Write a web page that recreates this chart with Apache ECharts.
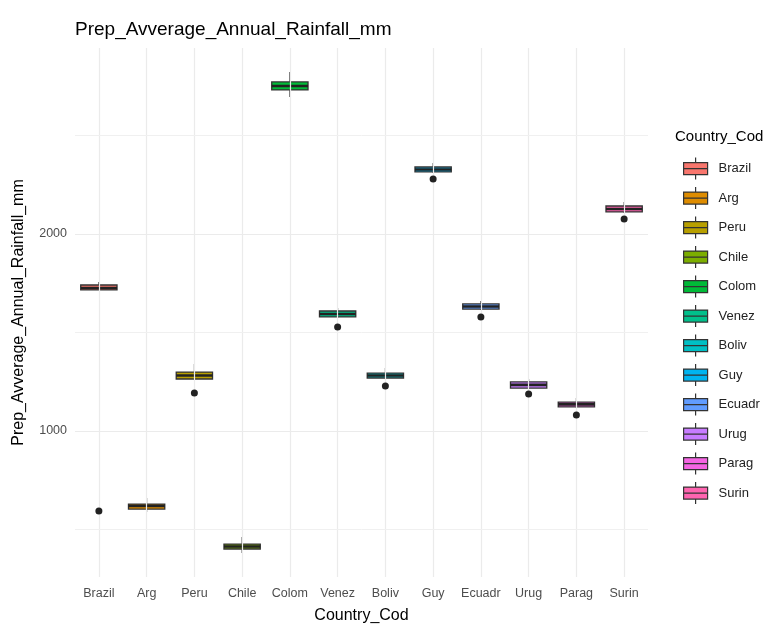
<!DOCTYPE html>
<html><head><meta charset="utf-8">
<script src="https://cdn.jsdelivr.net/npm/echarts@6/dist/echarts.min.js"></script>
<style>html,body{margin:0;padding:0;background:#fff}#c{width:784px;height:625px}</style>
</head><body><div id="c"></div>
<script>
const categories = ['Brazil','Arg','Peru','Chile','Colom','Venez','Boliv','Guy','Ecuadr','Urug','Parag','Surin'];
const colors = ['#F8766D','#DE8C00','#B79F00','#7CAE00','#00BA38','#00C08B','#00BFC4','#00B4F0','#619CFF','#C77CFF','#F564E3','#FF64B0'];
// [lower whisker, Q1, median, Q3, upper whisker]
const boxBrazil = [1716, 1716, 1726, 1741, 1756];
const boxArg    = [589, 604, 619, 629, 660];
const boxPeru   = [1259, 1264, 1282, 1299, 1340];
const boxChile  = [381, 401, 414, 426, 462];
const boxColom  = [2695, 2731, 2751, 2772, 2822];
const boxVenez  = [1574, 1579, 1594, 1609, 1624];
const boxBoliv  = [1264, 1269, 1282, 1294, 1320];
const boxGuy    = [2310, 2315, 2327, 2340, 2360];
const boxEcuadr = [1614, 1619, 1632, 1645, 1660];
const boxUrug   = [1213, 1218, 1234, 1249, 1264];
const boxParag  = [1117, 1122, 1135, 1147, 1168];
const boxSurin  = [2107, 2112, 2127, 2142, 2162];
const boxes = [boxBrazil, boxArg, boxPeru, boxChile, boxColom, boxVenez, boxBoliv, boxGuy, boxEcuadr, boxUrug, boxParag, boxSurin];
// outliers: [category, value]
const outliers = [['Brazil',594],['Peru',1193],['Venez',1528],['Boliv',1228],['Guy',2279],['Ecuadr',1579],['Urug',1188],['Parag',1081],['Surin',2076]];
const yTickLabels = [1000, 2000];
const majorGrid = [1000, 2000];
const minorGrid = [500, 1500, 2500];

const FONT = '"Liberation Sans", Arial, sans-serif';
function renderBox(params, api) {
  const x = api.value(0);
  const lo = api.coord([x, api.value(1)]);
  const q1 = api.coord([x, api.value(2)]);
  const md = api.coord([x, api.value(3)]);
  const q3 = api.coord([x, api.value(4)]);
  const hi = api.coord([x, api.value(5)]);
  const bw = api.size([1, 0])[0] * 0.76;
  const cx = md[0];
  return {type: 'group', children: [
    {type: 'line', shape: {x1: cx, y1: lo[1], x2: cx, y2: q1[1]}, style: {stroke: '#333', lineWidth: 1.1}},
    {type: 'line', shape: {x1: cx, y1: q3[1], x2: cx, y2: hi[1]}, style: {stroke: '#333', lineWidth: 1.1}},
    {type: 'rect', shape: {x: cx - bw/2, y: q3[1], width: bw, height: Math.max(q1[1] - q3[1], 1)}, style: {fill: api.visual('color'), stroke: '#333', lineWidth: 1.3}},
    {type: 'line', shape: {x1: cx - bw/2, y1: md[1], x2: cx + bw/2, y2: md[1]}, style: {stroke: '#222', lineWidth: 2.6}}
  ]};
}

const series = [];
const gridLines = [];
categories.forEach((c, i) => gridLines.push({xAxis: i, lineStyle: {color: '#EBEBEB', width: 1.2, type: 'solid'}}));
majorGrid.forEach(v => gridLines.push({yAxis: v, lineStyle: {color: '#EBEBEB', width: 1.2, type: 'solid'}}));
minorGrid.forEach(v => gridLines.push({yAxis: v, lineStyle: {color: '#F0F0F0', width: 1, type: 'solid'}}));
series.push({type: 'line', name: 'grid', data: [], z: 0, silent: true,
  markLine: {silent: true, symbol: ['none','none'], label: {show: false}, animation: false,
    lineStyle: {type: 'solid'}, emphasis: {disabled: true}, data: gridLines}});
categories.forEach((c, i) => {
  series.push({type: 'custom', name: c, z: 3, itemStyle: {color: colors[i]},
    encode: {x: 0, y: [1,2,3,4,5]},
    renderItem: renderBox,
    data: [[i].concat(boxes[i])]});
});
series.push({type: 'scatter', name: 'outliers', z: 5, symbol: 'circle', symbolSize: 7,
  itemStyle: {color: '#222', borderWidth: 0, opacity: 1},
  data: outliers.map(o => [categories.indexOf(o[0]), o[1]])});

const chart = echarts.init(document.getElementById('c'));
chart.setOption({
  animation: false,
  backgroundColor: '#fff',
  textStyle: {fontFamily: FONT},
  title: [
    {text: 'Prep_Avverage_Annual_Rainfall_mm', left: 70, top: 15, textStyle: {fontFamily: FONT, fontSize: 19, fontWeight: 'normal', color: '#000'}},
    {text: 'Country_Cod', left: 670, top: 124, textStyle: {fontFamily: FONT, fontSize: 15, fontWeight: 'normal', color: '#000'}}
  ],
  grid: {left: 75, right: 136, top: 48, bottom: 48, containLabel: false, outerBoundsMode: 'none'},
  legend: {
    orient: 'vertical', left: 678, top: 152,
    data: categories,
    itemWidth: 24, itemHeight: 22, itemGap: 6.3,
    icon: 'path://M0,5H24V17H0Z M0,11H24 M12,0V5 M12,17V22',
    itemStyle: {borderColor: '#333', borderWidth: 1.2},
    textStyle: {fontFamily: FONT, fontSize: 13, color: '#222', padding: [0,0,0,6]}
  },
  xAxis: {
    type: 'category', data: categories, boundaryGap: true,
    axisLine: {show: false}, axisTick: {show: false}, splitLine: {show: false},
    axisLabel: {interval: 0, fontFamily: FONT, fontSize: 12.5, color: '#4D4D4D', margin: 10},
    name: 'Country_Cod', nameLocation: 'middle', nameGap: 31,
    nameTextStyle: {fontFamily: FONT, fontSize: 16, color: '#000'}
  },
  yAxis: {
    type: 'value', min: 259, max: 2944,
    axisLine: {show: false}, axisTick: {show: false}, splitLine: {show: false},
    axisLabel: {customValues: yTickLabels, formatter: v => String(v), fontFamily: FONT, fontSize: 12.5, color: '#4D4D4D', margin: 8},
    name: 'Prep_Avverage_Annual_Rainfall_mm', nameLocation: 'middle', nameGap: 48,
    nameTextStyle: {fontFamily: FONT, fontSize: 16, color: '#000'}
  },
  series: series
});
</script></body></html>
